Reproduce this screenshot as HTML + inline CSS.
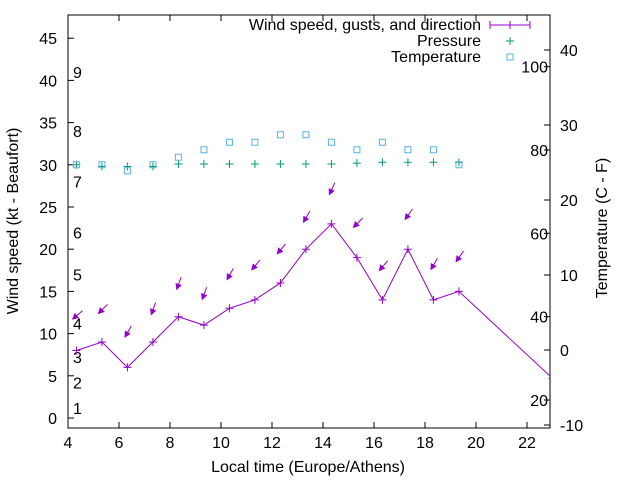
<!DOCTYPE html>
<html><head><meta charset="utf-8"><style>
body{margin:0;background:#fff}
svg{display:block;font-family:"Liberation Sans",sans-serif}
</style></head><body>
<svg id="chart" width="640" height="480" viewBox="0 0 640 480" xmlns="http://www.w3.org/2000/svg">
<defs><clipPath id="clip"><rect x="68" y="15" width="482" height="413"/></clipPath></defs>
<g id="axes"></g>
<g id="plot" clip-path="url(#clip)"></g>
<g id="legend">
<text x="481" y="30" text-anchor="end" font-size="16">Wind speed, gusts, and direction</text>
<line x1="490" y1="25" x2="530" y2="25" stroke="#9400d3"/><line x1="490" y1="21" x2="490" y2="29" stroke="#9400d3"/><line x1="530" y1="21" x2="530" y2="29" stroke="#9400d3"/><line x1="510" y1="21" x2="510" y2="29" stroke="#9400d3"/>
<text x="481" y="46" text-anchor="end" font-size="16">Pressure</text>
<path d="M506 41h8M510 37v8" stroke="#009e73"/>
<text x="481" y="62" text-anchor="end" font-size="16">Temperature</text>
<rect x="507" y="54" width="6" height="6" fill="none" stroke="#56b4e9"/>
</g>
<text x="308" y="472" text-anchor="middle" font-size="16">Local time (Europe/Athens)</text>
<text transform="translate(18,221) rotate(-90)" text-anchor="middle" font-size="16">Wind speed (kt - Beaufort)</text>
<text transform="translate(607,228) rotate(-90)" text-anchor="middle" font-size="16">Temperature (C - F)</text>
</svg>
<script>
const times=[4.33,5.33,6.33,7.33,8.33,9.33,10.33,11.33,12.33,13.33,14.33,15.33,16.33,17.33,18.33,19.33,23.0];
const speeds=[8,9,6,9,12,11,13,14,16,20,23,19,14,20,14,15,4.7];
const gusts=[12.1,12.8,10.1,12.8,15.8,14.6,16.9,18,19.9,23.7,27,23,17.9,24,18.1,19];
const dirs=[50,45,30,20,20,20,30,40,40,30,25,45,40,35,30,35];
const pressure=[30,29.8,29.8,29.8,30.1,30.1,30.1,30.1,30.1,30.1,30.1,30.2,30.3,30.3,30.3,30.3];
const temps=[24.7,24.7,23.9,24.7,25.7,26.7,27.7,27.7,28.7,28.7,27.7,26.7,27.7,26.7,26.7,24.7];
const xTicks=[4,6,8,10,12,14,16,18,20,22];
const yTicks=[0,5,10,15,20,25,30,35,40,45];
const y2Ticks=[-10,0,10,20,30,40];
const fTicks=[20,40,60,80,100];
const bft=[1,2,3,4,5,6,7,8,9];
const bftY=[1.2,4.2,7.2,11.2,17,22,28,34,41];

const X=t=>68+(t-4)*25.5;
const Y=v=>418-v*8.44;
const Y2=c=>350-c*7.5;
const NS="http://www.w3.org/2000/svg";
function mk(p,tag,a,txt){const e=document.createElementNS(NS,tag);for(const k in a)e.setAttribute(k,a[k]);if(txt!==undefined)e.textContent=txt;p.appendChild(e);return e;}
const ax=document.getElementById('axes'),pl=document.getElementById('plot');
const fr=mk(ax,'rect',{x:68,y:15,width:482,height:413,fill:'none',stroke:'#000'});


xTicks.forEach(t=>{const x=X(t);
 mk(ax,'path',{d:`M${x} 428v-6M${x} 15v6`,stroke:'#000'});
 const l=mk(ax,'text',{x:x,y:448,'text-anchor':'middle','font-size':16},String(t));
 
 });
yTicks.forEach(v=>{const y=Y(v);
 mk(ax,'path',{d:`M68 ${y}h6`,stroke:'#000'});
 const l=mk(ax,'text',{x:57,y:y+6,'text-anchor':'end','font-size':16},String(v));
 
 });
y2Ticks.forEach(c=>{const y=Y2(c);
 mk(ax,'path',{d:`M550 ${y}h-6`,stroke:'#000'});
 const l=mk(ax,'text',{x:560,y:y+6,'font-size':16},String(c));
 
 });
fTicks.forEach(f=>{const y=Y2((f-32)*5/9);
 mk(ax,'path',{d:`M550 ${y}h-6`,stroke:'#000'});
 const l=mk(ax,'text',{x:548,y:y+6,'text-anchor':'end','font-size':16},String(f));
 
 });
bft.forEach((b,i)=>{const l=mk(ax,'text',{x:73,y:Y(bftY[i])+6,'font-size':16},String(b));
 
 });
const ln=mk(pl,'polyline',{points:times.map((t,i)=>X(t)+','+Y(speeds[i])).join(' '),fill:'none',stroke:'#9400d3'});


times.forEach((t,i)=>{const x=X(t),y=Y(speeds[i]);
 const p=mk(pl,'path',{d:`M${x-4} ${y}h8M${x} ${y-4}v8`,stroke:'#9400d3'});
 
 });
gusts.forEach((g,i)=>{const cx=X(times[i]),cy=Y(g);const a=dirs[i]*Math.PI/180;
 const dx=Math.sin(a),dy=-Math.cos(a),L=8;
 const tx=cx+dx*L,ty=cy+dy*L,hx=cx-dx*L*0.6,hy=cy-dy*L*0.6;
 const px=-dy,py=dx;
 const b1x=hx+dx*5+px*2.5,b1y=hy+dy*5+py*2.5,b2x=hx+dx*5-px*2.5,b2y=hy+dy*5-py*2.5;
 const g2=mk(pl,'g',{});
 
 
 mk(g2,'line',{x1:tx,y1:ty,x2:hx,y2:hy,stroke:'#9400d3'});
 mk(g2,'path',{d:`M${hx} ${hy}L${b1x} ${b1y}L${b2x} ${b2y}Z`,fill:'#9400d3',stroke:'#9400d3'});});
pressure.forEach((p,i)=>{const x=X(times[i]),y=Y(p);
 const e=mk(pl,'path',{d:`M${x-4} ${y}h8M${x} ${y-4}v8`,stroke:'#009e73'});
 
 });
temps.forEach((c,i)=>{const x=X(times[i]),y=Y2(c);
 const e=mk(pl,'rect',{x:x-3,y:y-3,width:6,height:6,fill:'none',stroke:'#56b4e9'});
 
 });
</script>
</body></html>
